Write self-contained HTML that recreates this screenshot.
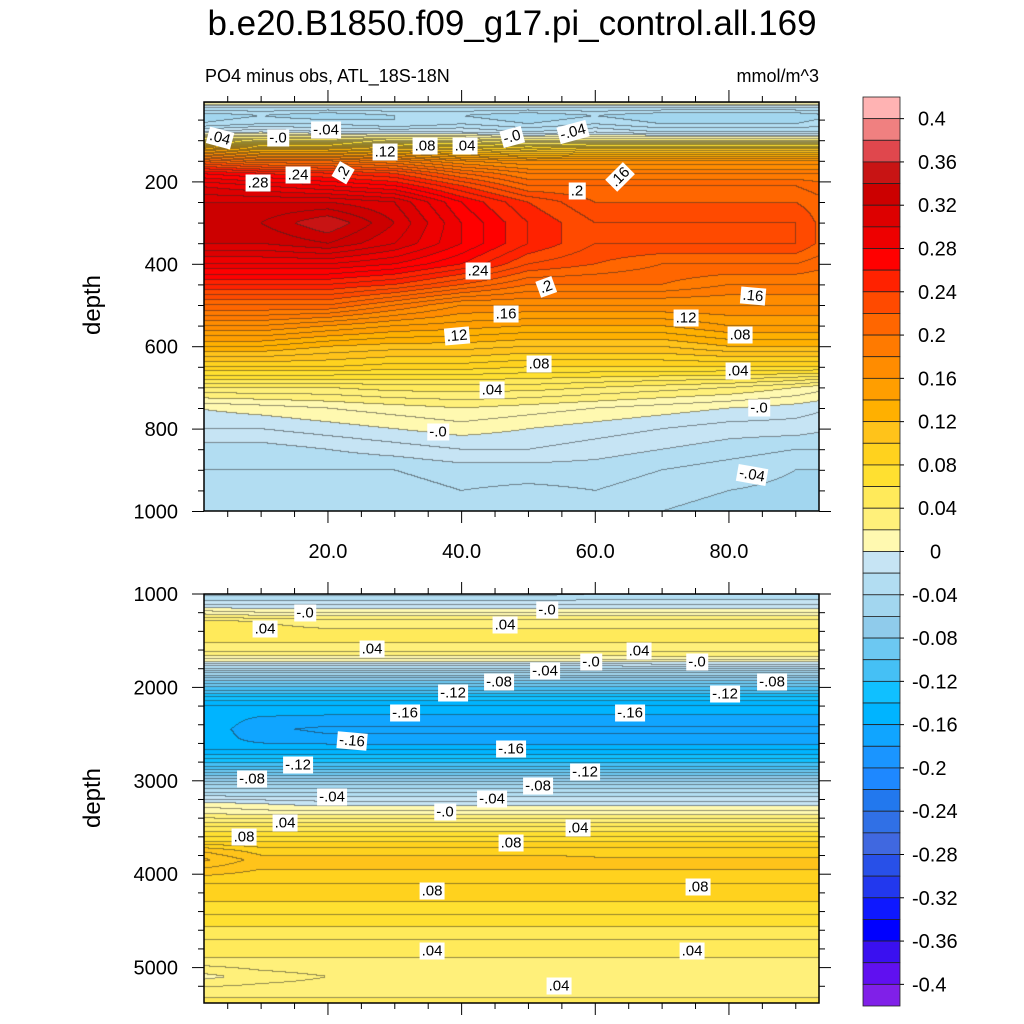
<!DOCTYPE html>
<html><head><meta charset="utf-8">
<style>
body{margin:0;background:#fff;font-family:"Liberation Sans",sans-serif;}
#wrap{position:relative;width:1024px;height:1024px;overflow:hidden;}
.t{position:absolute;white-space:nowrap;color:#000;}
.lbl{position:absolute;background:#fff;font-size:15px;padding:0 2px;line-height:17px;transform:translate(-50%,-50%);white-space:nowrap;}
canvas{position:absolute;}
</style></head>
<body><div id="wrap">
<div class="t" style="left:0;width:1024px;text-align:center;top:4px;font-size:35px;">b.e20.B1850.f09_g17.pi_control.all.169</div>
<div class="t" style="left:205px;top:66px;font-size:18px;">PO4 minus obs, ATL_18S-18N</div>
<div class="t" style="right:205px;top:66px;font-size:18px;">mmol/m^3</div>
<div class="t" style="left:93px;top:305px;font-size:24px;transform:translate(-50%,-50%) rotate(-90deg);">depth</div>
<div class="t" style="left:93px;top:798px;font-size:24px;transform:translate(-50%,-50%) rotate(-90deg);">depth</div>
<canvas id="c1" width="615" height="409" style="left:204px;top:102px"></canvas>
<canvas id="c2" width="615" height="409" style="left:204px;top:594px"></canvas>
<svg id="ax" width="1024" height="1024" style="position:absolute;left:0;top:0"></svg>
</div>
<script>
const xs=[0,10,20,30,40,50,60,70,80,90,96];
const topDepths=[5,20,40,60,80,100,120,150,180,210,250,300,350,400,450,500,550,600,650,700,750,800,850,900,1000];
const topVals=[
[.02,.02,.02,.02,.02,.02,.02,.02,.02,.02,.02],
[-.02,-.02,-.02,-.02,-.02,-.02,-.02,-.02,-.02,-.02,-.02],
[-.05,-.04,-.05,-.04,-.04,-.05,-.04,-.05,-.05,-.05,-.04],
[-.04,-.03,-.03,-.04,-.03,-.04,-.03,-.04,-.04,-.04,-.03],
[-.01,0,-.01,-.01,-.01,-.02,-.01,-.02,-.02,-.02,-.02],
[.06,.05,.05,.04,.04,.03,.03,.03,.03,.03,.03],
[.14,.12,.12,.11,.10,.09,.10,.10,.10,.10,.10],
[.22,.20,.20,.19,.17,.16,.16,.16,.16,.16,.16],
[.27,.26,.25,.24,.21,.19,.19,.19,.19,.19,.19],
[.30,.29,.28,.27,.24,.21,.21,.21,.21,.21,.20],
[.32,.32,.32,.31,.27,.24,.22,.22,.22,.22,.21],
[.33,.33,.35,.32,.28,.25,.23,.23,.23,.23,.21],
[.32,.32,.33,.31,.28,.25,.23,.23,.23,.23,.21],
[.29,.29,.29,.28,.26,.23,.22,.21,.21,.21,.20],
[.25,.25,.25,.24,.22,.20,.20,.20,.19,.19,.19],
[.21,.21,.21,.19,.17,.17,.17,.17,.17,.17,.17],
[.17,.17,.16,.15,.145,.14,.14,.14,.15,.15,.15],
[.13,.13,.12,.115,.115,.11,.11,.11,.12,.12,.12],
[.09,.09,.09,.085,.085,.08,.08,.08,.08,.08,.08],
[.04,.04,.04,.045,.045,.045,.04,.035,.03,.02,.01],
[0,.005,.01,.015,.02,.015,.01,.005,0,-.005,-.01],
[-.01,-.01,-.005,0,.005,0,-.005,-.01,-.015,-.015,-.02],
[-.025,-.025,-.02,-.015,-.01,-.01,-.015,-.02,-.025,-.03,-.03],
[-.03,-.03,-.03,-.03,-.025,-.025,-.025,-.03,-.035,-.04,-.04],
[-.035,-.04,-.04,-.04,-.035,-.04,-.035,-.04,-.045,-.045,-.045]];
const botDepths=[1000,1100,1200,1300,1450,1600,1700,1800,1900,2000,2100,2200,2350,2450,2550,2650,2750,2850,2950,3050,3150,3250,3350,3450,3550,3650,3750,3850,3950,4100,4300,4500,4700,4900,5100,5250,5400];
const botVals=[
[-.035,-.035,-.035,-.035,-.035,-.035,-.03,-.03,-.03,-.03,-.03],
[-.015,-.015,-.015,-.015,-.015,-.015,-.015,-.015,-.015,-.015,-.015],
[.015,.01,.01,.01,.01,.01,.01,.01,.01,.01,.01],
[.045,.04,.035,.035,.035,.035,.035,.035,.035,.035,.035],
[.045,.045,.045,.045,.045,.045,.045,.045,.045,.045,.045],
[.035,.035,.035,.035,.035,.035,.035,.035,.035,.035,.035],
[.01,.01,.01,.01,.01,.01,.01,.015,.015,.015,.015],
[-.03,-.03,-.03,-.03,-.03,-.03,-.03,-.03,-.03,-.03,-.03],
[-.07,-.07,-.07,-.07,-.07,-.07,-.07,-.07,-.07,-.07,-.07],
[-.10,-.10,-.10,-.10,-.10,-.10,-.10,-.10,-.10,-.10,-.10],
[-.13,-.13,-.13,-.13,-.13,-.13,-.13,-.13,-.13,-.13,-.13],
[-.15,-.15,-.15,-.15,-.15,-.15,-.15,-.15,-.15,-.15,-.15],
[-.15,-.163,-.165,-.165,-.165,-.165,-.165,-.165,-.165,-.165,-.165],
[-.15,-.168,-.172,-.172,-.172,-.172,-.172,-.172,-.172,-.172,-.172],
[-.15,-.165,-.168,-.168,-.168,-.168,-.168,-.168,-.168,-.168,-.168],
[-.155,-.155,-.155,-.155,-.155,-.155,-.155,-.155,-.155,-.155,-.155],
[-.135,-.135,-.135,-.135,-.135,-.135,-.135,-.135,-.135,-.135,-.135],
[-.11,-.11,-.11,-.11,-.11,-.11,-.11,-.11,-.11,-.11,-.11],
[-.08,-.08,-.08,-.08,-.08,-.08,-.08,-.08,-.08,-.08,-.08],
[-.05,-.05,-.05,-.05,-.05,-.05,-.05,-.05,-.05,-.05,-.05],
[-.025,-.025,-.025,-.025,-.025,-.025,-.025,-.025,-.025,-.025,-.025],
[.005,0,-.005,-.005,-.005,-.005,-.005,-.005,-.005,-.005,-.005],
[.02,.015,.015,.015,.015,.015,.015,.015,.015,.015,.015],
[.04,.04,.04,.04,.04,.04,.04,.04,.04,.04,.04],
[.06,.06,.06,.06,.06,.06,.06,.06,.06,.06,.06],
[.08,.08,.08,.08,.08,.08,.08,.08,.08,.08,.08],
[.11,.095,.095,.095,.095,.095,.095,.095,.095,.095,.095],
[.125,.105,.105,.105,.105,.105,.102,.102,.102,.102,.102],
[.11,.10,.10,.10,.10,.10,.10,.10,.10,.10,.10],
[.09,.09,.09,.09,.09,.09,.09,.09,.09,.09,.09],
[.08,.08,.08,.08,.08,.08,.08,.08,.08,.08,.08],
[.065,.065,.065,.065,.065,.065,.065,.065,.065,.065,.065],
[.05,.05,.05,.05,.05,.05,.05,.05,.05,.05,.05],
[.04,.04,.04,.04,.04,.04,.04,.04,.04,.04,.04],
[.015,.025,.03,.03,.03,.03,.03,.03,.03,.03,.03],
[.035,.035,.035,.035,.035,.035,.035,.035,.035,.035,.035],
[.045,.045,.045,.045,.045,.045,.045,.045,.045,.045,.045]];
const warmColors=["#FFF9B0","#FFF07A","#FFEA5A","#FFE030","#FFD21E","#FFC31A","#FFB000","#FF9E00","#FF8C00","#FF7A00","#FF6600","#FF4A00","#FF2200","#FF0000","#EE0000","#DD0000","#CC0000","#C81414","#E0474D","#F08080","#FFB3B3"];
const coolColors=["#C6E4F4","#B2DDF2","#A2D6EF","#8FCBEB","#6CC8F2","#45C0F5","#10C0FF","#00B4FF","#10A5FF","#1A95FF","#1E88FF","#2278EE","#3070E6","#4068E0","#2850E8","#2238EE","#0E18FF","#0000FF","#3A10F0","#6010F0","#8020E8"];
const cbLabels=["0.4","0.36","0.32","0.28","0.24","0.2","0.16","0.12","0.08","0.04","0","-0.04","-0.08","-0.12","-0.16","-0.2","-0.24","-0.28","-0.32","-0.36","-0.4"];
const xTickLabels=["20.0","40.0","60.0","80.0"];
const topYTicks=[200,400,600,800,1000];
const botYTicks=[1000,2000,3000,4000,5000];

const xPix=x=>194.3+x*6.683;
const xVal=p=>(p-194.3)/6.683;
const topY=d=>99.5+d*0.412;
const topD=y=>(y-99.5)/0.412;
const botY=d=>594+(d-1000)*0.0934;
const botD=y=>1000+(y-594)/0.0934;

function hex(c){return [parseInt(c.slice(1,3),16),parseInt(c.slice(3,5),16),parseInt(c.slice(5,7),16)];}
const warmRGB=warmColors.map(hex), coolRGB=coolColors.map(hex);
function colorOf(v){let i=Math.floor(v/0.02+1e-9);if(i>=0)return warmRGB[Math.min(i,20)];return coolRGB[Math.min(-i-1,20)];}
function idx(arr,v){let i=0;while(i<arr.length-2&&v>arr[i+1])i++;let t=(v-arr[i])/(arr[i+1]-arr[i]);return [i,Math.max(0,Math.min(1,t))];}
function sample(ds,vals,x,d){const [j,tx]=idx(xs,x),[i,ty]=idx(ds,d);
 const a=vals[i][j],b=vals[i][j+1],c=vals[i+1][j],e=vals[i+1][j+1];
 return (a*(1-tx)+b*tx)*(1-ty)+(c*(1-tx)+e*tx)*ty;}
function draw(id,ds,vals,toD,top){
 const cv=document.getElementById(id),ctx=cv.getContext('2d'),W=cv.width,H=cv.height;
 const img=ctx.createImageData(W,H),V=new Float32Array(W*H);
 for(let y=0;y<H;y++)for(let x=0;x<W;x++)V[y*W+x]=sample(ds,vals,xVal(204+x+0.5),toD(top+y+0.5));
 for(let y=0;y<H;y++)for(let x=0;x<W;x++){
  const v=V[y*W+x];let c=colorOf(v);const k=(y*W+x)*4;
  const l=Math.floor(v/0.01+1e-9);let line=false;
  if(x<W-1&&Math.floor(V[y*W+x+1]/0.01+1e-9)!==l)line=true;
  if(y<H-1&&Math.floor(V[(y+1)*W+x]/0.01+1e-9)!==l)line=true;
  if(line){c=c.map(q=>q*0.5+20);}
  img.data[k]=c[0];img.data[k+1]=c[1];img.data[k+2]=c[2];img.data[k+3]=255;}
 ctx.putImageData(img,0,0);}
draw('c1',topDepths,topVals,topD,102);
draw('c2',botDepths,botVals,botD,594);

const svg=document.getElementById('ax'),NS="http://www.w3.org/2000/svg";
function mk(tag,at,name){const e=document.createElementNS(NS,tag);for(const k in at)e.setAttribute(k,at[k]);
 
 
 svg.appendChild(e);return e;}
function ln(x1,y1,x2,y2,name,w){mk('line',{x1,y1,x2,y2,stroke:'#000','stroke-width':w||1},name);}
function panel(t,b,yf,maj,minStep,dmin,dmax,xlabels,pfx){
 mk('rect',{x:204,y:t,width:615,height:b-t,fill:'none',stroke:'#000','stroke-width':1.5},pfx+'-frame');
 for(let x=5;x<=95;x+=5){const px=xPix(x);if(px<205||px>818)continue;const L=(x%20===0)?12:6;
  ln(px,t,px,t-L,pfx+'-x-tick-top');ln(px,b,px,b+L,pfx+'-x-tick-bottom');}
 for(let d=Math.ceil(dmin/minStep)*minStep;d<=dmax;d+=minStep){const py=yf(d);if(py<t||py>b+0.5)continue;const L=maj.includes(d)?12:6;
  ln(204,py,204-L,py,pfx+'-y-tick-left');ln(819,py,819+L,py,pfx+'-y-tick-right');}
 maj.forEach(d=>{const e=mk('text',{x:178,y:yf(d)+7,'text-anchor':'end','font-size':20,'font-family':'Liberation Sans'},pfx+'-y-tick-label');e.textContent=d;});
 if(xlabels)xTickLabels.forEach((s,i)=>{const e=mk('text',{x:xPix(20*(i+1)),y:558,'text-anchor':'middle','font-size':20,'font-family':'Liberation Sans'},'x-tick-label');e.textContent=s;});
}
panel(102,511,topY,topYTicks,50,0,1000,true,'top');
panel(594,1003,botY,botYTicks,200,1000,5400,false,'bottom');
const cbTop=97,cbH=909/42;
for(let i=0;i<42;i++){const c=i<21?warmColors[20-i]:coolColors[i-21];
 mk('rect',{x:863,y:cbTop+i*cbH,width:37,height:cbH,fill:c,stroke:'#222','stroke-width':0.8},'colorbar-box');}
cbLabels.forEach((s,i)=>{const y=cbTop+(1+2*i)*cbH;
 ln(900,y,904,y,'colorbar-tick');
 const e=mk('text',{x:s==="0"?930:(s[0]==='-'?912:918),y:y+7,'font-size':20,'font-family':'Liberation Sans'},'colorbar-label');e.textContent=s;});
const labels=[[".04",220,138,15],["-.0",278,138,0],["-.04",326,130,0],[".12",385,152,0],[".08",425,146,0],[".04",465,146,0],["-.0",512,137,-15],["-.04",573,132,-15],[".28",258,183,0],[".24",298,175,0],[".2",343,173,-60],[".2",577,191,0],[".16",620,177,-45],[".24",478,271,0],[".2",546,287,-20],[".16",506,314,0],[".12",457,336,-5],[".12",686,318,0],[".16",753,296,5],[".08",539,364,0],[".08",740,335,0],[".04",492,390,0],[".04",738,371,0],["-.0",438,432,0],["-.0",759,408,0],["-.04",752,475,10],
["-.0",305,613,0],[".04",265,629,0],[".04",372,649,0],[".04",505,625,0],["-.0",547,610,0],[".04",639,651,0],["-.0",591,662,0],["-.04",545,671,0],["-.08",499,682,0],["-.12",453,693,0],["-.0",697,662,0],["-.12",725,694,0],["-.08",772,682,0],["-.16",405,713,0],["-.16",630,713,0],["-.16",352,741,5],["-.16",511,749,0],["-.12",298,765,0],["-.08",252,779,0],["-.04",332,797,0],["-.12",585,772,0],["-.08",538,786,0],["-.04",492,799,0],["-.0",445,812,0],[".04",578,828,0],[".04",285,823,0],[".08",244,837,0],[".08",511,843,0],[".08",432,891,0],[".08",698,887,0],[".04",432,951,0],[".04",692,951,0],[".04",559,986,0]];
const wrap=document.getElementById('wrap');
labels.forEach(l=>{const d=document.createElement('div');d.className='lbl';d.textContent=l[0];
 d.style.left=l[1]+'px';d.style.top=l[2]+'px';d.style.transform='translate(-50%,-50%) rotate('+l[3]+'deg)';
 
 
 wrap.appendChild(d);});
</script>
</body></html>
